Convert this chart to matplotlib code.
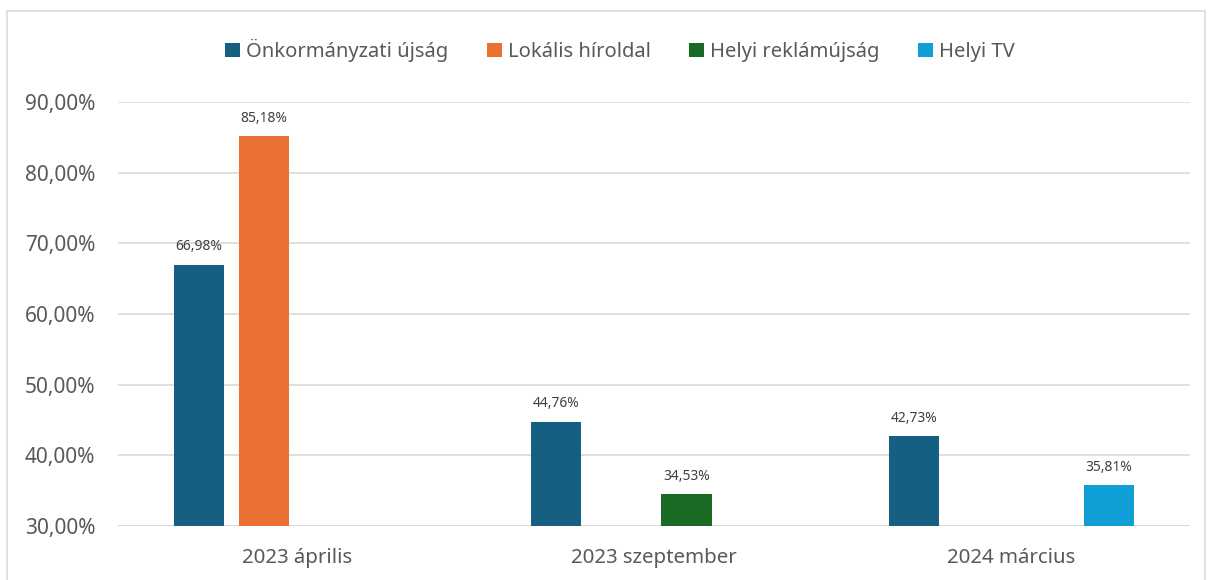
import matplotlib.pyplot as plt
from matplotlib.patches import Rectangle
from matplotlib.font_manager import fontManager

categories = ["2023 április", "2023 szeptember", "2024 március"]
series_names = ["Önkormányzati újság", "Lokális híroldal",
                "Helyi reklámújság", "Helyi TV"]
onkormanyzati = [66.98, 44.76, 42.73]
lokalis = [85.18, None, None]
reklamujsag = [None, 34.53, None]
helyi_tv = [None, None, 35.81]
colors = ["#156082", "#E97132", "#196B24", "#0F9ED5"]
yticks = [30, 40, 50, 60, 70, 80, 90]

installed = {f.name for f in fontManager.ttflist}
main_font = "Noto Sans" if "Noto Sans" in installed else "DejaVu Sans"

fig = plt.figure(figsize=(12.13, 5.80), dpi=100)
ax = fig.add_axes([0.0973, 0.093, 0.8837, 0.731])

# keret a teljes abra korul
fig.patches.append(Rectangle((7 / 1213, -0.05), 1198 / 1213, 1.05 - 11 / 580,
                             transform=fig.transFigure, fill=False,
                             edgecolor="#D9D9D9", lw=1.2))

slot = 0.182
width = 0.14
all_series = [onkormanyzati, lokalis, reklamujsag, helyi_tv]
handles = []
for i, (vals, name, col) in enumerate(zip(all_series, series_names, colors)):
    xs, hs = [], []
    for c, v in enumerate(vals):
        if v is not None:
            xs.append(c + (i - 1.5) * slot)
            hs.append(v - 30)
    bars = ax.bar(xs, hs, width=width, bottom=30, color=col, label=name,
                  zorder=3)
    handles.append(bars)
    for x, h in zip(xs, hs):
        ax.annotate(f"{h + 30:.2f}%".replace(".", ","), (x, h + 30),
                    xytext=(0, 7.5), textcoords="offset points",
                    ha="center", va="bottom", fontsize=10,
                    color="#404040", family=main_font)

ax.set_xlim(-0.5, 2.5)
ax.set_ylim(30, 90)
ax.set_yticks(yticks)
ax.set_yticklabels([f"{t:.2f}%".replace(".", ",") for t in yticks],
                   fontsize=15, color="#595959", family=main_font)
ax.set_xticks(range(len(categories)))
ax.set_xticklabels(categories, fontsize=14.7, color="#595959",
                   family=main_font)
ax.tick_params(axis="y", length=0, pad=16.5)
ax.tick_params(axis="x", length=0, pad=16)
ax.grid(axis="y", color="#D9D9D9", lw=1.2, zorder=0)
for s in ax.spines.values():
    s.set_visible(False)
ax.axhline(30, color="#D9D9D9", lw=1.4, zorder=2)

fig.legend(handles=handles, loc="center", bbox_to_anchor=(0.511, 0.913),
           ncol=4, frameon=False, handlelength=0.75, handleheight=0.75,
           handletextpad=0.3, columnspacing=1.9,
           prop={"family": main_font, "size": 14.5},
           labelcolor="#595959")

fig.savefig("out.png", dpi=100)
